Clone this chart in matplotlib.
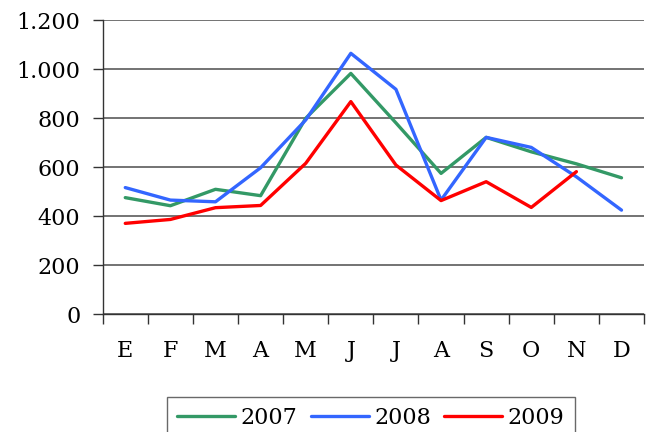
import matplotlib
matplotlib.use("Agg")
import matplotlib.pyplot as plt
from matplotlib.ticker import FuncFormatter, FixedLocator

months = ["E", "F", "M", "A", "M", "J", "J", "A", "S", "O", "N", "D"]
y2007 = [475, 442, 509, 483, 799, 982, 780, 574, 721, 662, 613, 556]
y2008 = [516, 465, 458, 597, 792, 1064, 917, 465, 721, 680, 560, 424]
y2009 = [370, 386, 434, 443, 615, 867, 608, 463, 540, 435, 581]
yticks = [0, 200, 400, 600, 800, 1000, 1200]

plt.rcParams["font.family"] = ["DejaVu Serif"]

fig = plt.figure(figsize=(6.53, 4.32), dpi=100)
ax = fig.add_axes([0.1573, 0.2731, 0.829, 0.6806])

x = list(range(len(months)))
ax.plot(x, y2007, color="#339966", lw=2.4, label="2007", solid_capstyle="round")
ax.plot(x, y2008, color="#3366FF", lw=2.4, label="2008", solid_capstyle="round")
ax.plot(x[:len(y2009)], y2009, color="#FF0000", lw=2.4, label="2009", solid_capstyle="round")

ax.set_xlim(-0.5, len(months) - 0.5)
ax.set_ylim(0, 1200)
ax.set_yticks(yticks)
ax.yaxis.set_major_formatter(FuncFormatter(lambda v, p: f"{int(v):,}".replace(",", ".")))
ax.grid(axis="y", color="#4d4d4d", lw=1.1)
ax.set_axisbelow(True)

ax.set_xticks(x)
ax.set_xticklabels(months)
ax.xaxis.set_minor_locator(FixedLocator([i - 0.5 for i in range(len(months) + 1)]))
ax.tick_params(axis="x", which="major", length=0, pad=19, labelsize=16)
ax.tick_params(axis="x", which="minor", length=7, width=1, color="#333333", direction="out")
ax.tick_params(axis="y", length=7, width=1, color="#333333", pad=9, labelsize=16)

for s in ["top", "right"]:
    ax.spines[s].set_visible(False)
for s in ["left", "bottom"]:
    ax.spines[s].set_color("#333333")
    ax.spines[s].set_linewidth(1.0)

leg = fig.legend(loc="upper center", bbox_to_anchor=(371 / 653, 1 - 397 / 432),
                 ncol=3, fontsize=16, frameon=True, fancybox=False,
                 handlelength=2.6, handletextpad=0.25, columnspacing=0.6,
                 borderpad=0.45, borderaxespad=0)
leg.get_frame().set_edgecolor("#444444")
leg.get_frame().set_linewidth(1.0)

fig.savefig("out.png", dpi=100)
